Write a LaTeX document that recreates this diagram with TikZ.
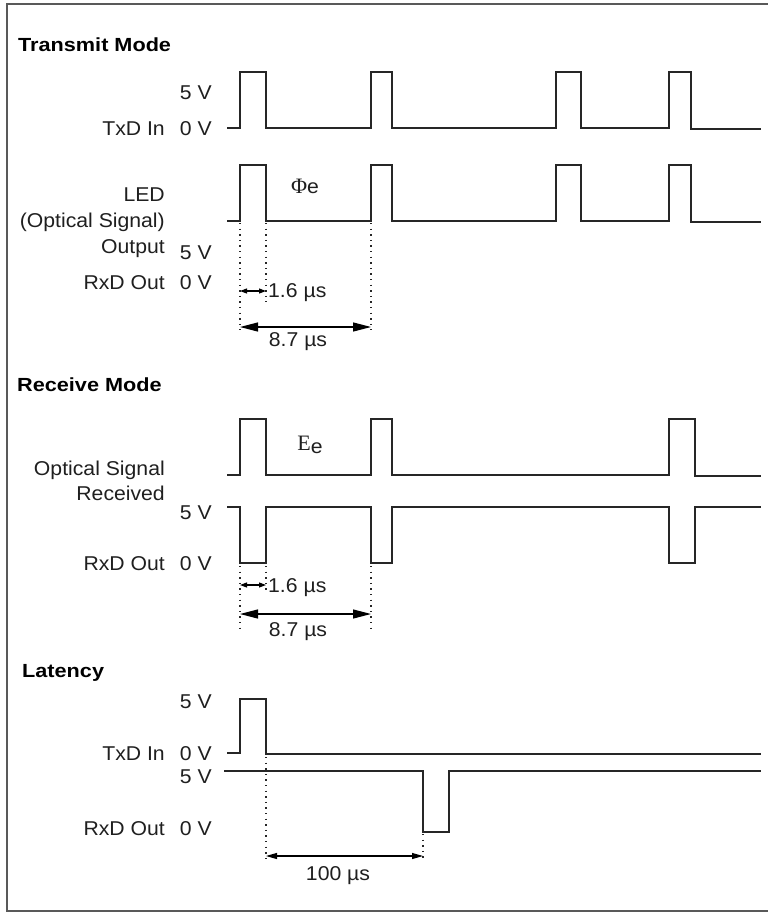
\documentclass[tikz,border=0pt]{standalone}
\usepackage{fontspec}
\setmainfont{Liberation Sans}[FakeStretch=1.06]
\newfontfamily\headfont{Liberation Sans}[FakeStretch=1.14]
\newfontfamily\symbfont{Liberation Serif}
\usetikzlibrary{arrows.meta}
\tikzset{frame/.style = {draw=black!65, line width=1.5pt},
         wave/.style = {draw=black!85, line width=1.1pt},
         guide/.style = {draw=black!85, line width=1.4pt, dash pattern=on 1.4pt off 4.2pt},
         dimsmall/.style = {draw=black, line width=1.1pt,
                            {Triangle[length=7pt,width=5pt]}-{Triangle[length=7pt,width=5pt]}},
         dimlarge/.style = {draw=black, line width=1.2pt,
                            {Triangle[length=18pt,width=9pt]}-{Triangle[length=18pt,width=9pt]}},
         dimmid/.style = {draw=black, line width=1.1pt,
                          {Triangle[length=11pt,width=6pt]}-{Triangle[length=11pt,width=6pt]}},
         every node/.style = {inner sep=0pt, text=black!88,
                              font=\fontsize{20}{24}\selectfont},
         head/.style = {anchor=base west, text=black,
                        font=\headfont\bfseries\fontsize{19}{22}\selectfont},
         lbl/.style = {anchor=base east},
         val/.style = {anchor=base east},
         dimtext/.style = {anchor=base}}

\begin{document}
\begin{tikzpicture}[x=1pt, y=-1pt]
    \useasboundingbox (0,0) rectangle (768,914);
    \draw [frame] (768,4) -- (7,4) -- (7,911) -- (768,911);

    % transmit mode
    \node [head] (txmode) at (18,51) {Transmit Mode};
    \node [val] (txhi) at (212,99) {5 V};
    \node [lbl] (txin) at (165,135) {TxD In};
    \node [val] (txlo) at (212,135) {0 V};
    \node [lbl] (led) at (165,201) {LED};
    \node [lbl] (ledopt) at (165,227) {(Optical Signal)};
    \node [lbl] (ledout) at (165,253) {Output};
    \node [val] (txrxhi) at (212,259) {5 V};
    \node [lbl] (txrxout) at (165,289) {RxD Out};
    \node [val] (txrxlo) at (212,289) {0 V};
    \node [anchor=base] (phie) at (305,193) {{\symbfont\fontsize{22}{24}\selectfont Φ}e};

    \draw [wave] (227,128) -| (240,72) -| (266,128) -| (371,72) -| (392,128) -| (556,72)
                 -| (581,128) -| (669,72) -| (691,129) -- (761,129);
    \draw [wave] (227,221) -| (240,165) -| (266,221) -| (371,165) -| (392,221) -| (556,165)
                 -| (581,221) -| (669,165) -| (691,222) -- (761,222);

    \draw [guide] (240,223) -- (240,330);
    \draw [guide] (266,223) -- (266,302);
    \draw [guide] (371,223) -- (371,330);
    \draw [dimsmall] (240,291) -- (266,291);
    \draw [dimlarge] (240,327) -- (371,327);
    \node [anchor=base west] (txshort) at (268,297) {1.6 µs};
    \node [dimtext] (txlong) at (298,346) {8.7 µs};

    % receive mode
    \node [head] (rxmode) at (17,391) {Receive Mode};
    \node [lbl] (optrx) at (165,475) {Optical Signal};
    \node [lbl] (optrx2) at (165,500) {Received};
    \node [val] (rxhi) at (212,519) {5 V};
    \node [lbl] (rxout) at (165,570) {RxD Out};
    \node [val] (rxlo) at (212,570) {0 V};
    \node [anchor=base] (ee) at (310,450) {{\symbfont\fontsize{22}{24}\selectfont E}\raisebox{-0.3ex}{e}};

    \draw [wave] (227,475) -| (240,419) -| (266,475) -| (371,419) -| (392,475)
                 -| (669,419) -| (695,476) -- (761,476);
    \draw [wave] (227,507) -| (240,563) -| (266,507) -| (371,563) -| (392,507)
                 -| (669,563) -| (695,507) -- (761,507);

    \draw [guide] (240,566) -- (240,628);
    \draw [guide] (266,566) -- (266,590);
    \draw [guide] (371,566) -- (371,628);
    \draw [dimsmall] (240,585) -- (266,585);
    \draw [dimlarge] (240,614) -- (371,614);
    \node [anchor=base west] (rxshort) at (268,592) {1.6 µs};
    \node [dimtext] (rxlong) at (298,636) {8.7 µs};

    % latency
    \node [head] (latmode) at (22,677) {Latency};
    \node [val] (lathi) at (212,708) {5 V};
    \node [lbl] (latin) at (165,760) {TxD In};
    \node [val] (latlo) at (212,760) {0 V};
    \node [val] (latrxhi) at (212,783) {5 V};
    \node [lbl] (latout) at (165,835) {RxD Out};
    \node [val] (latrxlo) at (212,835) {0 V};

    \draw [wave] (227,753) -| (240,699) -| (266,754) -- (761,754);
    \draw [wave] (224,771) -| (423,832) -| (449,771) -- (761,771);

    \draw [guide] (266,757) -- (266,860);
    \draw [guide] (423,834) -- (423,860);
    \draw [dimmid] (266,856) -- (423,856);
    \node [dimtext] (latdelay) at (338,880) {100 µs};
\end{tikzpicture}
\end{document}
